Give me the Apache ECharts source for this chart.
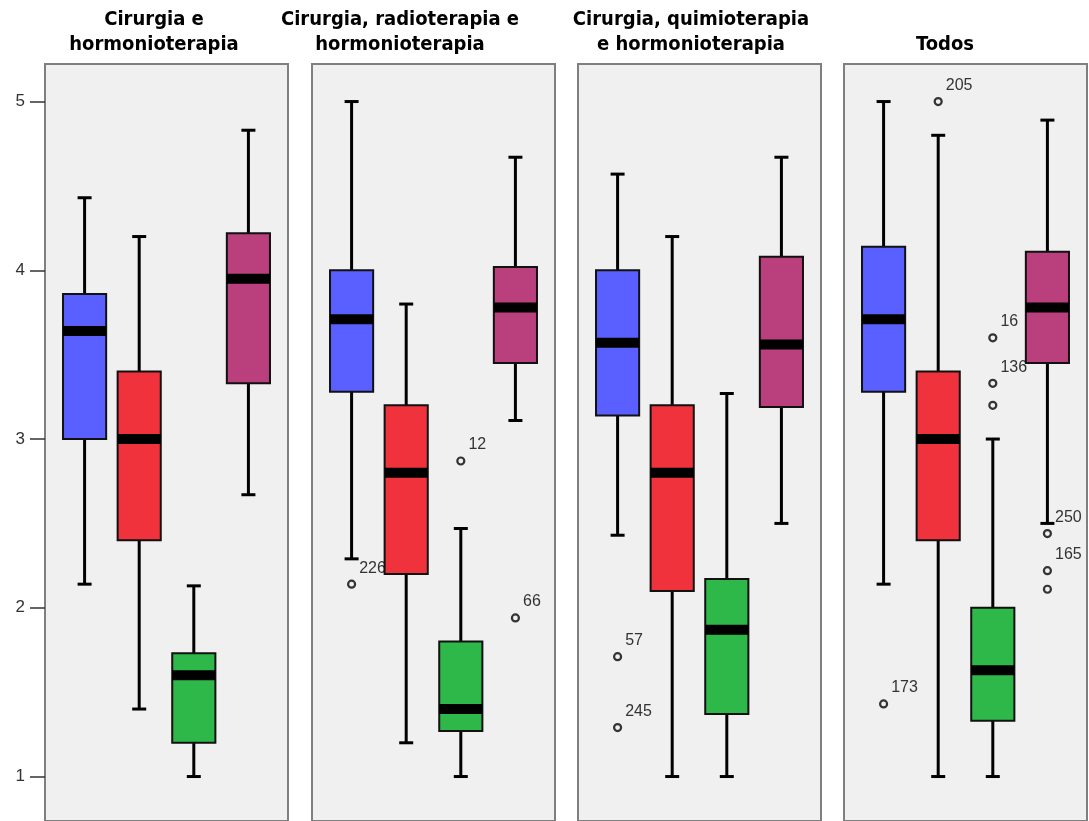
<!DOCTYPE html>
<html><head><meta charset="utf-8">
<script src="https://cdn.jsdelivr.net/npm/echarts@6/dist/echarts.min.js"></script>
<style>html,body{margin:0;padding:0;background:#fff}#c{width:1089px;height:821px}</style>
</head><body><div id="c"></div>
<script>
// Panel titles (two lines each)
const panelTitles = [
  ["Cirurgia e", "hormonioterapia"],
  ["Cirurgia, radioterapia e", "hormonioterapia"],
  ["Cirurgia, quimioterapia", "e hormonioterapia"],
  ["Todos"]
];
// group positions 1..4 inside each panel (blue, red, green, purple)
const groupPos = [1, 2, 3, 4];
const yTicks = [1, 2, 3, 4, 5];

// [min, Q1, median, Q3, max] for each group
const p1Boxes = [[2.14, 3.00, 3.64, 3.86, 4.43], [1.40, 2.40, 3.00, 3.40, 4.20], [1.00, 1.20, 1.60, 1.73, 2.13], [2.67, 3.33, 3.95, 4.22, 4.83]];
const p2Boxes = [[2.29, 3.28, 3.71, 4.00, 5.00], [1.20, 2.20, 2.80, 3.20, 3.80], [1.00, 1.27, 1.40, 1.80, 2.47], [3.11, 3.45, 3.78, 4.02, 4.67]];
const p3Boxes = [[2.43, 3.14, 3.57, 4.00, 4.57], [1.00, 2.10, 2.80, 3.20, 4.20], [1.00, 1.37, 1.87, 2.17, 3.27], [2.50, 3.19, 3.56, 4.08, 4.67]];
const p4Boxes = [[2.14, 3.28, 3.71, 4.14, 5.00], [1.00, 2.40, 3.00, 3.40, 4.80], [1.00, 1.33, 1.63, 2.00, 3.00], [2.50, 3.45, 3.78, 4.11, 4.89]];

// outliers: [group, value, case label]
const p1Outliers = [];
const p2Outliers = [[1, 2.14, "226"], [3, 2.87, "12"], [4, 1.94, "66"]];
const p3Outliers = [[1, 1.71, "57"], [1, 1.29, "245"]];
const p4Outliers = [[1, 1.43, "173"], [2, 5.00, "205"], [3, 3.60, "16"], [3, 3.33, "136"], [3, 3.20, ""], [4, 2.44, "250"], [4, 2.22, "165"], [4, 2.11, ""]];

const boxColors = ["#5a60ff", "#ef323c", "#2fb84a", "#ba3f7d"];

const panels = [
  {boxes: p1Boxes, outliers: p1Outliers},
  {boxes: p2Boxes, outliers: p2Outliers},
  {boxes: p3Boxes, outliers: p3Outliers},
  {boxes: p4Boxes, outliers: p4Outliers}
];
const panelLeft = [45, 312, 578, 844];
const panelWidth = 243;
const titleCenters = [154, 400, 691, 945];

function renderBox(params, api) {
  const x = api.value(0);
  const med = api.coord([x, api.value(3)]);
  const q3y = api.coord([x, api.value(4)])[1];
  const q1y = api.coord([x, api.value(2)])[1];
  const maxY = api.coord([x, api.value(5)])[1];
  const minY = api.coord([x, api.value(1)])[1];
  const w = api.size([0.79, 0])[0];
  const cx = med[0];
  const color = boxColors[params.dataIndex];
  const ln = (x1, y1, x2, y2) => ({type: 'line', shape: {x1, y1, x2, y2}, style: {stroke: '#000', lineWidth: 3}});
  return {type: 'group', children: [
    ln(cx, maxY, cx, q3y),
    ln(cx, q1y, cx, minY),
    ln(cx - 7, maxY, cx + 7, maxY),
    ln(cx - 7, minY, cx + 7, minY),
    {type: 'rect', shape: {x: cx - w / 2, y: q3y, width: w, height: q1y - q3y}, style: {fill: color, stroke: '#111', lineWidth: 2}},
    {type: 'rect', shape: {x: cx - w / 2, y: med[1] - 5, width: w, height: 10}, style: {fill: '#000'}}
  ]};
}

const grids = [], xAxes = [], yAxes = [], series = [], graphics = [];
panels.forEach((p, i) => {
  grids.push({left: panelLeft[i], width: panelWidth, top: 64, bottom: -9, show: true,
    backgroundColor: '#f0f0f0', borderColor: '#7f7f7f', borderWidth: 2, containLabel: false});
  xAxes.push({gridIndex: i, type: 'value', min: 0.275, max: 4.725, show: false});
  yAxes.push({gridIndex: i, type: 'value', min: 0.7365, max: 5.2225,
    axisLine: {show: false}, splitLine: {show: false},
    axisTick: {show: i === 0, length: 15, customValues: yTicks, lineStyle: {color: '#333', width: 1.5}},
    axisLabel: {show: i === 0, customValues: yTicks, margin: 20, fontSize: 17, color: '#333', fontFamily: 'Liberation Sans'}});
  series.push({type: 'scatter', xAxisIndex: i, yAxisIndex: i, z: 1,
    data: p.outliers.map(o => [groupPos[o[0] - 1], o[1], o[2]]),
    symbol: 'circle', symbolSize: 7,
    itemStyle: {color: '#f0f0f0', borderColor: '#333', borderWidth: 2.2, opacity: 1},
    label: {show: true, position: 'right', distance: 3, offset: [0, -16],
      formatter: d => d.value[2], fontSize: 16, color: '#333', fontFamily: 'Liberation Sans'}
  });
  series.push({type: 'custom', xAxisIndex: i, yAxisIndex: i, z: 2,
    renderItem: renderBox,
    encode: {x: 0, y: [1, 2, 3, 4, 5]},
    data: p.boxes.map((b, j) => [groupPos[j], ...b])
  });
  const t = panelTitles[i];
  const lines = t.length === 2 ? [[t[0], 20], [t[1], 45]] : [[t[0], 45]];
  lines.forEach(([txt, y]) => graphics.push({type: 'text', x: titleCenters[i], y: y,
    style: {text: txt, align: 'center', verticalAlign: 'middle', fill: '#000',
      font: 'bold 20px "DejaVu Sans Condensed"'}}));
});

const chart = echarts.init(document.getElementById('c'));
chart.setOption({
  backgroundColor: '#ffffff',
  animation: false,
  grid: grids, xAxis: xAxes, yAxis: yAxes, series: series, graphic: graphics
});
</script></body></html>
